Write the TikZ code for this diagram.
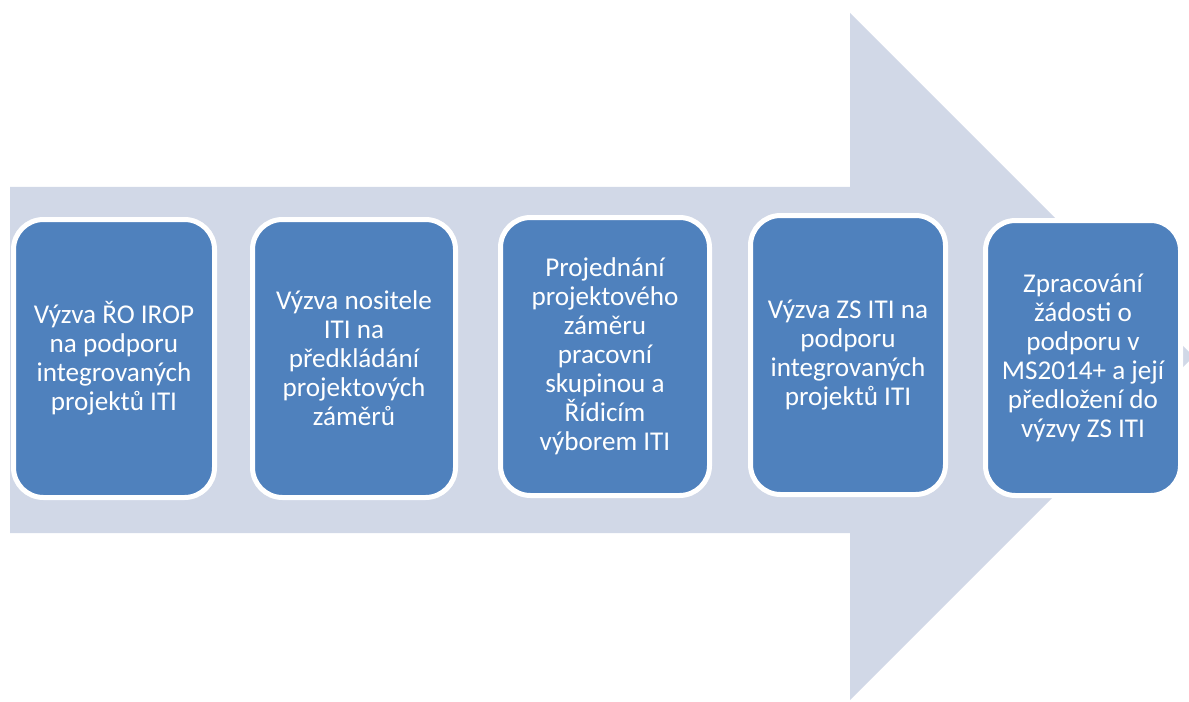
\documentclass[tikz,border=0pt]{standalone}
\usepackage{fontspec}
\setmainfont{Carlito}
\usepackage{tikz}
\usetikzlibrary{positioning}

\definecolor{sipka}{HTML}{D1D8E7}
\definecolor{krokmodra}{HTML}{4F81BD}

\tikzset{
  krok/.style={draw=white, line width=5*0.025cm, fill=krokmodra, rounded corners=0.75cm,
    text=white, align=center, inner sep=0pt,
    font=\fontsize{19.3pt}{20.6pt}\selectfont},
}

\begin{document}
\begin{tikzpicture}[x=0.025cm, y=-0.025cm]
                \useasboundingbox (0,0) rectangle (1189,702);
                \begin{scope}
                \clip (0,0) rectangle (1189,702);
                \fill[sipka] (10,187) -- (850,187) -- (850,13) -- (1193.5,356.5)
                    -- (850,700) -- (850,533) -- (10,533) -- cycle;
                \end{scope}

                \node[krok, minimum width=201*0.025cm, minimum height=278*0.025cm] (vyzvaRO) at (114,358.5)
                    {Výzva ŘO IROP\\na podporu\\integrovaných\\projektů ITI};
                \node[krok, minimum width=203*0.025cm, minimum height=278*0.025cm] (vyzvaNositel) at (354,358.5)
                    {Výzva nositele\\ITI na\\předkládání\\projektových\\záměrů};
                \node[krok, minimum width=209*0.025cm, minimum height=278*0.025cm] (projednani) at (605,356.5)
                    {Projednání\\projektového\\záměru\\pracovní\\skupinou a\\Řídicím\\výborem ITI};
                \node[krok, minimum width=195*0.025cm, minimum height=279*0.025cm] (vyzvaZS) at (848,355)
                    {Výzva ZS ITI na\\podporu\\integrovaných\\projektů ITI};
                \node[krok, minimum width=195*0.025cm, minimum height=275*0.025cm] (zadost) at (1083,358)
                    {Zpracování\\žádosti o\\podporu v\\MS2014+ a její\\předložení do\\výzvy ZS ITI};
\end{tikzpicture}
\end{document}
